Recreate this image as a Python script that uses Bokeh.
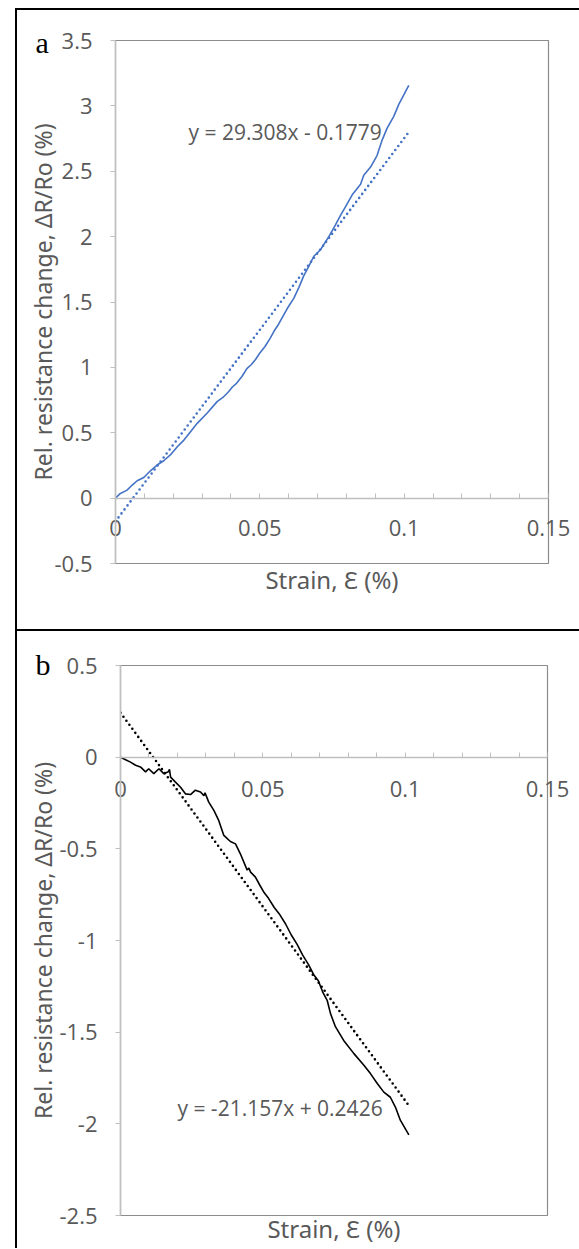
from bokeh.plotting import figure
from bokeh.models import FixedTicker, LinearAxis, Label, Range1d, Div, Spacer, Title
from bokeh.layouts import column, row
from bokeh.embed import file_html
from bokeh.resources import INLINE

# ---------------- data ----------------
# panel a: strain (%) vs relative resistance change (%)
strain_a = [0, 0.0017, 0.004, 0.0058, 0.0075, 0.0098, 0.0121, 0.0144, 0.0167, 0.019,
            0.0214, 0.0237, 0.026, 0.0283, 0.0317, 0.0352, 0.0372, 0.039, 0.0405, 0.042,
            0.0438, 0.0455, 0.047, 0.0485, 0.050, 0.0518, 0.0535, 0.055, 0.0565, 0.058,
            0.0595, 0.0618, 0.0635, 0.0652, 0.0669, 0.0687, 0.071, 0.0739, 0.0762, 0.0779,
            0.0797, 0.082, 0.0849, 0.086, 0.0883, 0.0906, 0.0924, 0.0941, 0.0964, 0.0981,
            0.1016]
resist_a = [0, 0.036, 0.061, 0.10, 0.133, 0.158, 0.209, 0.253, 0.286, 0.33,
            0.393, 0.444, 0.508, 0.572, 0.649, 0.738, 0.77, 0.81, 0.85, 0.88,
            0.93, 0.99, 1.02, 1.06, 1.11, 1.16, 1.22, 1.28, 1.33, 1.39,
            1.45, 1.53, 1.61, 1.70, 1.77, 1.85, 1.90, 2.00, 2.09, 2.16,
            2.23, 2.32, 2.40, 2.47, 2.53, 2.62, 2.74, 2.83, 2.92, 3.01,
            3.157]
slope_a, intercept_a = 29.308, -0.1779
trend_x_a = [0.0, 0.1016]
equation_a = "y = 29.308x - 0.1779"

# panel b
strain_b = [0, 0.0018, 0.0035, 0.0053, 0.007, 0.0088, 0.0099, 0.0117, 0.0135, 0.0152,
            0.0168, 0.0172, 0.0176, 0.0193, 0.0211, 0.0228, 0.0246, 0.0263, 0.0281, 0.0293,
            0.0297, 0.031, 0.0328, 0.0345, 0.0363, 0.0386, 0.0404, 0.0421, 0.0445, 0.0451,
            0.0457, 0.0474, 0.049, 0.0505, 0.052, 0.054, 0.056, 0.058, 0.060, 0.062,
            0.064, 0.066, 0.068, 0.0695, 0.071, 0.0726, 0.0738, 0.0755, 0.0784, 0.082,
            0.0855, 0.0878, 0.0902, 0.0925, 0.0948, 0.0966, 0.0983, 0.1013]
resist_b = [0, -0.014, -0.027, -0.044, -0.053, -0.08, -0.063, -0.09, -0.063, -0.09,
            -0.08, -0.066, -0.109, -0.136, -0.164, -0.2, -0.204, -0.18, -0.19, -0.21,
            -0.195, -0.245, -0.29, -0.345, -0.427, -0.46, -0.473, -0.527, -0.616, -0.605,
            -0.627, -0.654, -0.70, -0.74, -0.77, -0.82, -0.86, -0.91, -0.97, -1.02,
            -1.08, -1.13, -1.19, -1.22, -1.28, -1.326, -1.40, -1.47, -1.545, -1.617,
            -1.68, -1.726, -1.78, -1.827, -1.855, -1.91, -1.98, -2.06]
slope_b, intercept_b = -21.157, 0.2426
trend_x_b = [0.0, 0.1015]
equation_b = "y = -21.157x + 0.2426"

# axes ticks / labels
x_ticks = [0, 0.05, 0.1, 0.15]
x_tick_labels = ["0", "0.05", "0.1", "0.15"]
x_minor_ticks = [0.01, 0.02, 0.03, 0.04, 0.06, 0.07, 0.08, 0.09, 0.11, 0.12, 0.13, 0.14]
y_ticks_a = [-0.5, 0, 0.5, 1, 1.5, 2, 2.5, 3, 3.5]
y_tick_labels_a = ["-0.5", "0", "0.5", "1", "1.5", "2", "2.5", "3", "3.5"]
y_ticks_b = [-2.5, -2, -1.5, -1, -0.5, 0, 0.5]
y_tick_labels_b = ["-2.5", "-2", "-1.5", "-1", "-0.5", "0", "0.5"]

x_title = "Strain, \u0190 (%)"
y_title = "Rel. resistance change, \u0394R/Ro (%)"

FONT = "Open Sans"
TFONT = "Noto Sans"
TXT = "#595959"
AX = "#bfbfbf"


def make_panel(xs, ys, tx, slope, intercept, color, y_ticks, y_labels, yr,
               eq_text, eq_pos, letter, letter_place, borders, frame,
               lab_standoff, title_standoff, ytitle_standoff):
    fw, fh = frame
    bl, br, bt, bb = borders
    p = figure(frame_width=fw, frame_height=fh, min_border_left=bl, min_border_right=br,
               min_border_top=bt, min_border_bottom=bb,
               x_range=Range1d(0, 0.15), y_range=Range1d(*yr),
               output_backend="svg", toolbar_location=None,
               background_fill_color="white", border_fill_color="white")
    p.margin = 0
    p.grid.visible = False
    p.outline_line_color = "#8c8c8c"
    p.outline_line_width = 1.2

    # x axis line + ticks crossing at y = 0
    xa = p.xaxis[0]
    xa.fixed_location = 0
    xa.ticker = FixedTicker(ticks=x_ticks, minor_ticks=x_minor_ticks)
    xa.major_label_overrides = {t: "" for t in x_ticks}
    xa.axis_line_color = AX
    xa.axis_line_width = 1.5
    xa.major_tick_line_color = AX
    xa.minor_tick_line_color = AX
    xa.major_tick_in = 5
    xa.major_tick_out = 0
    xa.minor_tick_in = 5
    xa.minor_tick_out = 0

    # bottom axis carrying the tick labels (drawn up beside the zero line) and the title
    lax = LinearAxis(ticker=FixedTicker(ticks=x_ticks),
                     major_label_overrides=dict(zip(x_ticks, x_tick_labels)),
                     axis_line_color=None, major_tick_out=0, major_tick_in=0,
                     minor_tick_out=0, minor_tick_in=0,
                     major_label_standoff=lab_standoff,
                     major_label_text_font=FONT, major_label_text_font_size="22px",
                     major_label_text_color=TXT,
                     axis_label=x_title, axis_label_standoff=title_standoff,
                     axis_label_text_font=TFONT, axis_label_text_font_size="24px",
                     axis_label_text_font_style="normal", axis_label_text_color=TXT)
    p.add_layout(lax, "below")

    ya = p.yaxis[0]
    ya.ticker = FixedTicker(ticks=y_ticks)
    ya.major_label_overrides = dict(zip(y_ticks, y_labels))
    ya.axis_line_color = AX
    ya.axis_line_width = 1.5
    ya.major_tick_line_color = AX
    ya.major_tick_out = 5
    ya.major_tick_in = 0
    ya.major_label_standoff = 18
    ya.major_label_text_font = FONT
    ya.major_label_text_font_size = "22px"
    ya.major_label_text_color = TXT
    ya.axis_label = y_title
    ya.axis_label_standoff = ytitle_standoff
    ya.axis_label_text_font = TFONT
    ya.axis_label_text_font_size = "23px"
    ya.axis_label_text_font_style = "normal"
    ya.axis_label_text_color = TXT

    p.line(xs, ys, line_color=color, line_width=1.6)
    ty = [slope * x + intercept for x in tx]
    p.line(tx, ty, line_color=color, line_width=2.6, line_dash="0 5", line_cap="round")

    p.add_layout(Label(x=eq_pos[0], y=eq_pos[1], text=eq_text, text_font=FONT,
                       text_font_size="21px", text_color=TXT, text_baseline="middle",
                       text_align="left"))
    # panel letter, placed in the top side panel so it is not clipped by the frame
    p.add_layout(Title(text=letter, align="left", offset=letter_place[0],
                       standoff=letter_place[1], vertical_align="bottom",
                       text_font="Liberation Serif", text_font_size="30px",
                       text_font_style="normal", text_color="black"), "above")
    return p


pa = make_panel(strain_a, resist_a, trend_x_a, slope_a, intercept_a, "#4472C4",
                y_ticks_a, y_tick_labels_a, (-0.5, 3.5), equation_a, (0.0253, 2.80),
                "a", (-80, -37), (98, 30, 30, 66), (433, 523), -44, 24, -8)
pb = make_panel(strain_b, resist_b, trend_x_b, slope_b, intercept_b, "black",
                y_ticks_b, y_tick_labels_b, (-2.5, 0.5), equation_b, (0.020, -1.915),
                "b", (-85, -31), (98, 31, 34, 33), (427, 550), -435, 412, -3)


def bar(w, h):
    return Div(text="", width=w, height=h, margin=0,
               styles={"background-color": "black", "padding": "0px"})


pb_row = row(Spacer(width=5, height=10, margin=0), pb, spacing=0, margin=0)
col = column(Spacer(width=10, height=8, margin=0), bar(562, 2), pa, bar(562, 2), pb_row,
             spacing=0, margin=0)
vline = column(Spacer(width=2, height=8, margin=0), bar(2, 1240), spacing=0, margin=0)
layout = row(Spacer(width=15, height=10, margin=0), vline, col, spacing=0, margin=0)
open("out.html", "w").write(file_html(layout, INLINE))
